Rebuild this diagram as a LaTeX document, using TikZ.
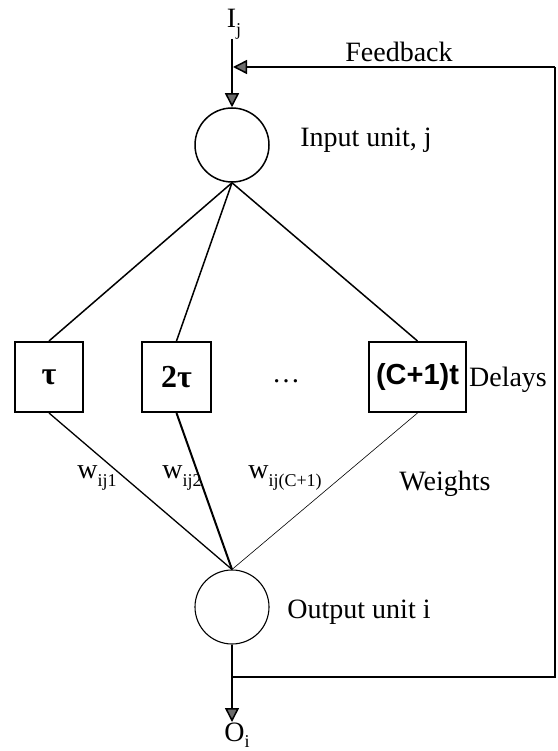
\documentclass[tikz,border=0pt]{standalone}
\usepackage{fontspec}
\setmainfont{Liberation Serif}
\newfontfamily\sansfnt{Liberation Sans}
\usetikzlibrary{arrows.meta}
\newcommand{\sbs}[1]{\raisebox{-0.3em}{\fontsize{18}{18}\selectfont #1}}
\begin{document}
\begin{tikzpicture}[x=1pt,y=-1pt,
  txt/.style={inner sep=0pt,font=\fontsize{28}{30}\selectfont},
  unit/.style={circle,draw,line width=1.5pt,minimum size=74pt,inner sep=0pt},
  delaybox/.style={draw,line width=2pt,minimum height=70pt,inner sep=0pt,font=\fontsize{32}{34}\selectfont\bfseries},
  conn/.style={line width=1.5pt},
  arr/.style={line width=1.5pt,-{Triangle[length=14pt,width=14pt,fill=gray!85!black]}}]
\useasboundingbox (0,0) rectangle (557,751);
\node[unit] (in) at (232,145) {};
\node[unit,line width=1.1pt] (out) at (232,607) {};
\node[delaybox,minimum width=68pt] (d1) at (49,377) {τ};
\node[delaybox,minimum width=69pt] (d2) at (176.5,377) {2τ};
\node[delaybox,minimum width=97pt,font=\fontsize{29}{32}\selectfont\sansfnt\bfseries] (d3) at (417.5,377) {(C+1)t};
\node[txt] (Ij) at (234,24) {I\sbs{j}};
\node[txt] (fb) at (399,52) {Feedback};
\node[txt] (inl) at (366,140) {Input unit, j};
\node[txt] (outl) at (359,612) {Output unit i};
\node[txt] (del) at (508,380) {Delays};
\node[txt] (dots) at (286,381) {\dots};
\node[txt] (w1) at (97,478) {w\sbs{ij1}};
\node[txt] (w2) at (182,478) {w\sbs{ij2}};
\node[txt] (w3) at (285,478) {w\sbs{ij(C+1)}};
\node[txt] (wt) at (445,484) {Weights};
\node[txt] (Oi) at (237,735) {O\raisebox{-0.2em}{\fontsize{18}{18}\selectfont i}};
\coordinate (ijs) at (232,39);
\coordinate (fbr) at (555,67);
\coordinate (fbj) at (233,67);
\coordinate (br) at (555,677);
\coordinate (bj) at (232,677);
\coordinate (otip) at (232,722);
\draw[arr] (ijs) -- (in.north);
\draw[arr] (fbr) -- (fbj);
\draw[conn] (bj) -- (br) -- (fbr);
\draw[arr] (out.south) -- (otip);
\draw[conn] (in.south) -- (d1.north);
\draw[conn] (in.south) -- (d2.north);
\draw[conn] (in.south) -- (d3.north);
\draw[line width=1.3pt] (d1.south) -- (out.north);
\draw[line width=2pt] (d2.south) -- (out.north);
\draw[line width=0.6pt] (d3.south) -- (out.north);
\end{tikzpicture}
\end{document}
